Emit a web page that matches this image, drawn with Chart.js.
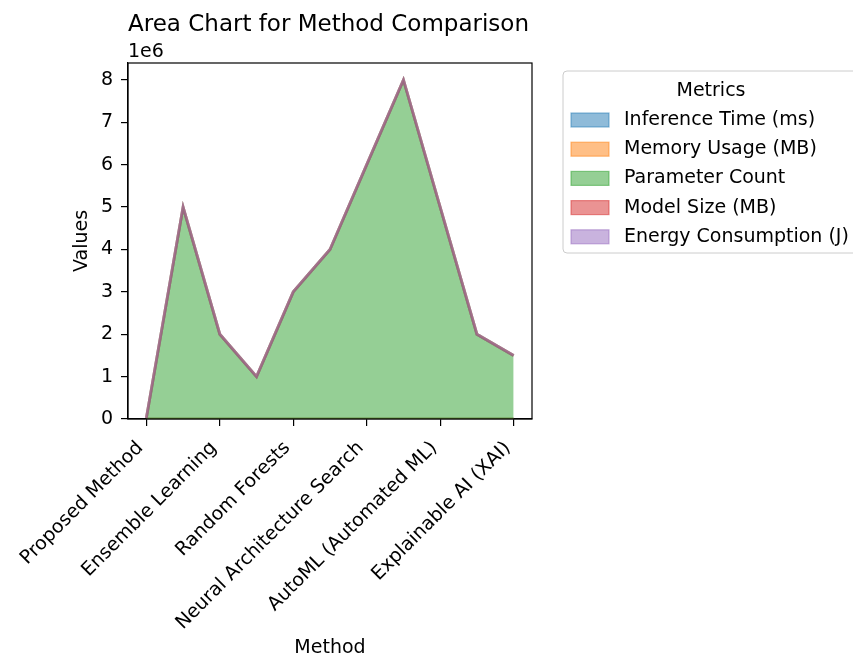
<!DOCTYPE html>
<html>
<head>
<meta charset="utf-8">
<script src="https://cdn.jsdelivr.net/npm/chart.js@4/dist/chart.umd.min.js"></script>
<style>
  html, body { margin: 0; padding: 0; background: #fff; }
  canvas { display: block; }
</style>
</head>
<body>
<canvas id="areaChart" width="853" height="659"></canvas>
<script>
// categories (only every other one gets a tick label in the original)
let methods = [
    "Proposed Method", "Transfer Learning", "Ensemble Learning", "Gradient Boosting",
    "Random Forests", "Support Vector Machines", "Neural Architecture Search",
    "Deep Neural Networks", "AutoML (Automated ML)", "Federated Learning", "Explainable AI (XAI)"
];

// series, stacked in this order
let inferenceTime = [12, 45, 30, 25, 35, 40, 60, 80, 50, 20, 18];
let memoryUsage = [150, 800, 400, 200, 500, 600, 1200, 1600, 900, 300, 250];
let parameterCount = [25000, 5000000, 2000000, 1000000, 3000000, 4000000, 6000000, 8000000, 5000000, 2000000, 1500000];
let modelSize = [5, 200, 80, 40, 120, 160, 240, 320, 200, 80, 60];
let energyConsumption = [2, 30, 15, 10, 20, 25, 40, 55, 35, 12, 10];

let seriesNames = ["Inference Time (ms)", "Memory Usage (MB)", "Parameter Count", "Model Size (MB)", "Energy Consumption (J)"];
let seriesValues = [inferenceTime, memoryUsage, parameterCount, modelSize, energyConsumption];
let seriesColors = ["31,119,180", "255,127,14", "44,160,44", "214,39,40", "148,103,189"];

let yTicks = [0, 1, 2, 3, 4, 5, 6, 7, 8];
let yScaleFactor = 1e6;

let chartTitle = "Area Chart for Method Comparison";
let legendTitle = "Metrics";

Chart.defaults.font.family = '"DejaVu Sans", sans-serif';
Chart.defaults.font.size = 19;
Chart.defaults.color = '#000';

// running totals, so later series sit on top of earlier ones (like pandas area)
let running = methods.map(function() { return 0; });
let datasets = seriesNames.map(function(name, i) {
    running = running.map(function(v, j) { return v + seriesValues[i][j]; });
    return {
        label: name,
        data: running.slice(),
        fill: i === 0 ? 'origin' : '-1',
        backgroundColor: 'rgba(' + seriesColors[i] + ',0.5)',
        borderColor: 'rgba(' + seriesColors[i] + ',0.5)',
        borderWidth: 2.8,
        pointRadius: 0,
        tension: 0,
        order: seriesNames.length - 1 - i   // draw later series last
    };
});

// frame, title, offset text and legend box (matplotlib look)
let decor = {
    id: 'decor',
    afterDraw: function(chart) {
        let ctx = chart.ctx, a = chart.chartArea;
        ctx.save();
        ctx.strokeStyle = '#000';
        ctx.lineWidth = 1.2;
        ctx.strokeRect(a.left, a.top, a.right - a.left, a.bottom - a.top);

        ctx.fillStyle = '#000';
        ctx.textAlign = 'left';
        ctx.textBaseline = 'alphabetic';
        ctx.font = '23px "DejaVu Sans"';
        ctx.fillText(chartTitle, a.left, 31);
        ctx.font = '19px "DejaVu Sans"';
        ctx.fillText('1e' + Math.log10(yScaleFactor), a.left, 57);

        // legend
        let lx = 563, ly = 71, lw = 330, lh = 182;
        ctx.beginPath();
        ctx.roundRect(lx, ly, lw, lh, 4);
        ctx.fillStyle = 'rgba(255,255,255,0.8)';
        ctx.fill();
        ctx.strokeStyle = '#cccccc';
        ctx.lineWidth = 1;
        ctx.stroke();

        ctx.fillStyle = '#000';
        ctx.textAlign = 'center';
        ctx.textBaseline = 'middle';
        ctx.fillText(legendTitle, 711, 91);

        ctx.textAlign = 'left';
        chart.data.datasets.forEach(function(ds, i) {
            let cy = 120 + i * 29.2;
            ctx.fillStyle = ds.backgroundColor;
            ctx.fillRect(571, cy - 7, 38, 14);
            ctx.strokeStyle = ds.borderColor;
            ctx.lineWidth = 1.2;
            ctx.strokeRect(571, cy - 7, 38, 14);
            ctx.fillStyle = '#000';
            ctx.fillText(ds.label, 624, cy);
        });
        ctx.restore();
    }
};

new Chart(document.getElementById('areaChart').getContext('2d'), {
    type: 'line',
    data: { labels: methods, datasets: datasets },
    plugins: [decor],
    options: {
        responsive: false,
        animation: false,
        devicePixelRatio: 1,
        layout: { padding: { left: 67, top: 63, right: 321, bottom: 0 } },
        plugins: {
            legend: { display: false },
            title: { display: false },
            tooltip: { enabled: false }
        },
        scales: {
            x: {
                offset: true,
                grid: { offset: false, drawOnChartArea: false, tickLength: 7, color: '#000', lineWidth: 1.2 },
                border: { display: true, color: '#000', width: 1.2 },
                ticks: { autoSkip: false, minRotation: 45, maxRotation: 45, padding: 11, labelOffset: -6 },
                afterBuildTicks: function(scale) {
                    scale.ticks = scale.ticks.filter(function(t) { return t.value % 2 === 0; });
                },
                afterFit: function(scale) { scale.height = 240; },
                title: { display: true, text: 'Method', padding: { top: 0, bottom: 0 } }
            },
            y: {
                min: 0,
                max: 8.4 * yScaleFactor,
                grid: { drawOnChartArea: false, tickLength: 7, color: '#000', lineWidth: 1.2 },
                border: { display: true, color: '#000', width: 1.2 },
                ticks: {
                    autoSkip: false,
                    padding: 8,
                    callback: function(v) { return String(Math.round(v / yScaleFactor)); }
                },
                afterBuildTicks: function(scale) {
                    scale.ticks = yTicks.map(function(t) { return { value: t * yScaleFactor }; });
                },
                afterFit: function(scale) { scale.width = 61; },
                title: { display: true, text: 'Values', padding: { top: 4, bottom: 4 } }
            }
        }
    }
});
</script>
</body>
</html>
